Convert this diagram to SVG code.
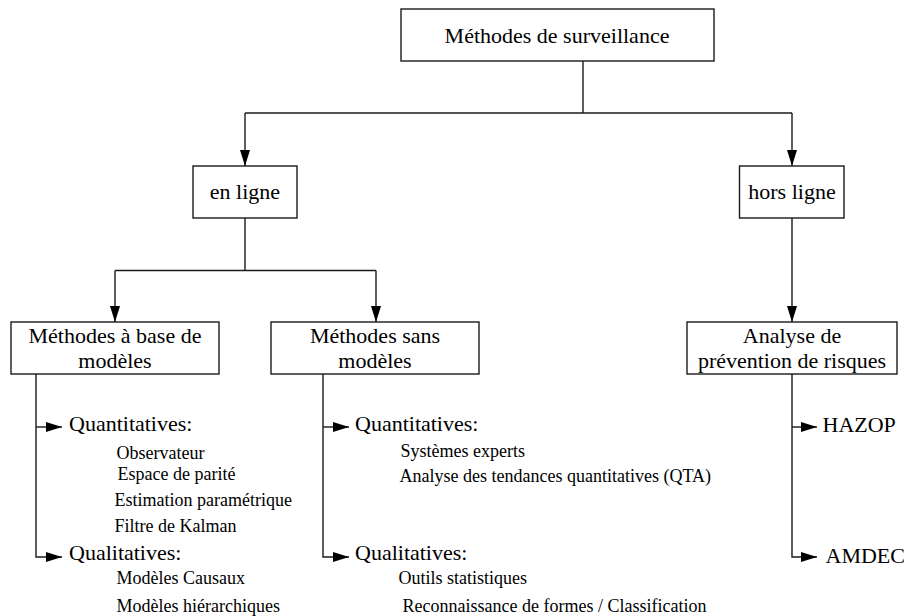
<svg xmlns="http://www.w3.org/2000/svg" width="905" height="616" viewBox="0 0 905 616">
<style>
.box{fill:#fff;stroke:#1a1a1a;stroke-width:1.4}
.ln{fill:none;stroke:#1a1a1a;stroke-width:1.4}
.t{font-family:"Liberation Serif","Times New Roman",serif;font-size:22px;fill:#000}
.s{font-family:"Liberation Serif","Times New Roman",serif;font-size:18px;fill:#000}
.c{text-anchor:middle}
</style>
<defs>
<marker id="ah" markerUnits="userSpaceOnUse" markerWidth="17" markerHeight="11" refX="16" refY="5" orient="auto">
<path d="M0,0 L16,5 L0,10 z" fill="#000"/>
</marker>
</defs>
<rect width="905" height="616" fill="#fff"/>
<g id="connectors">
<path class="ln" d="M583,61 V113"/>
<path class="ln" d="M245,113 H792"/>
<path class="ln" d="M245,113 V166" marker-end="url(#ah)"/>
<path class="ln" d="M792,113 V166" marker-end="url(#ah)"/>
<path class="ln" d="M245,218 V270.5"/>
<path class="ln" d="M115,270.5 H376"/>
<path class="ln" d="M115,270.5 V322" marker-end="url(#ah)"/>
<path class="ln" d="M376,270.5 V322" marker-end="url(#ah)"/>
<path class="ln" d="M792,218 V322" marker-end="url(#ah)"/>
<path class="ln" d="M36,374 V557 H62" marker-end="url(#ah)"/>
<path class="ln" d="M36,427 H62" marker-end="url(#ah)"/>
<path class="ln" d="M323,374 V557 H349" marker-end="url(#ah)"/>
<path class="ln" d="M323,427 H349" marker-end="url(#ah)"/>
<path class="ln" d="M792,374 V557 H817" marker-end="url(#ah)"/>
<path class="ln" d="M792,427 H817" marker-end="url(#ah)"/>
</g>
<g id="root">
<rect class="box" x="401" y="9" width="313" height="52"/>
<text class="t c" x="557" y="43">Méthodes de surveillance</text>
</g>
<g id="en-ligne">
<rect class="box" x="193" y="166" width="104" height="52"/>
<text class="t c" x="245" y="199">en ligne</text>
</g>
<g id="hors-ligne">
<rect class="box" x="739.5" y="166" width="104.5" height="52"/>
<text class="t c" x="792" y="199">hors ligne</text>
</g>
<g id="base-modeles">
<rect class="box" x="11" y="322" width="208" height="52"/>
<text class="t c" x="115" y="343">Méthodes à base de</text>
<text class="t c" x="115" y="368">modèles</text>
</g>
<g id="sans-modeles">
<rect class="box" x="271" y="322" width="208" height="52"/>
<text class="t c" x="375" y="343">Méthodes sans</text>
<text class="t c" x="375" y="368">modèles</text>
</g>
<g id="analyse">
<rect class="box" x="687" y="322" width="210" height="52"/>
<text class="t c" x="792" y="343">Analyse de</text>
<text class="t c" x="792" y="368">prévention de risques</text>
</g>
<g id="base-quantitatives">
<text class="t" x="69" y="431">Quantitatives:</text>
<text class="s" x="116.5" y="458.5">Observateur</text>
<text class="s" x="117.5" y="480">Espace de parité</text>
<text class="s" x="114.5" y="506">Estimation paramétrique</text>
<text class="s" x="114.5" y="531.5">Filtre de Kalman</text>
</g>
<g id="base-qualitatives">
<text class="t" x="69" y="560">Qualitatives:</text>
<text class="s" x="116.5" y="584">Modèles Causaux</text>
<text class="s" x="116.5" y="611.5">Modèles hiérarchiques</text>
</g>
<g id="sans-quantitatives">
<text class="t" x="355" y="431">Quantitatives:</text>
<text class="s" x="400.5" y="457">Systèmes experts</text>
<text class="s" x="399.5" y="482">Analyse des tendances quantitatives (QTA)</text>
</g>
<g id="sans-qualitatives">
<text class="t" x="355" y="560">Qualitatives:</text>
<text class="s" x="398.5" y="584">Outils statistiques</text>
<text class="s" x="402.5" y="612">Reconnaissance de formes / Classification</text>
</g>
<g id="hazop">
<text class="t" x="822.5" y="432">HAZOP</text>
</g>
<g id="amdec">
<text class="t" x="825.5" y="563">AMDEC</text>
</g>
</svg>
